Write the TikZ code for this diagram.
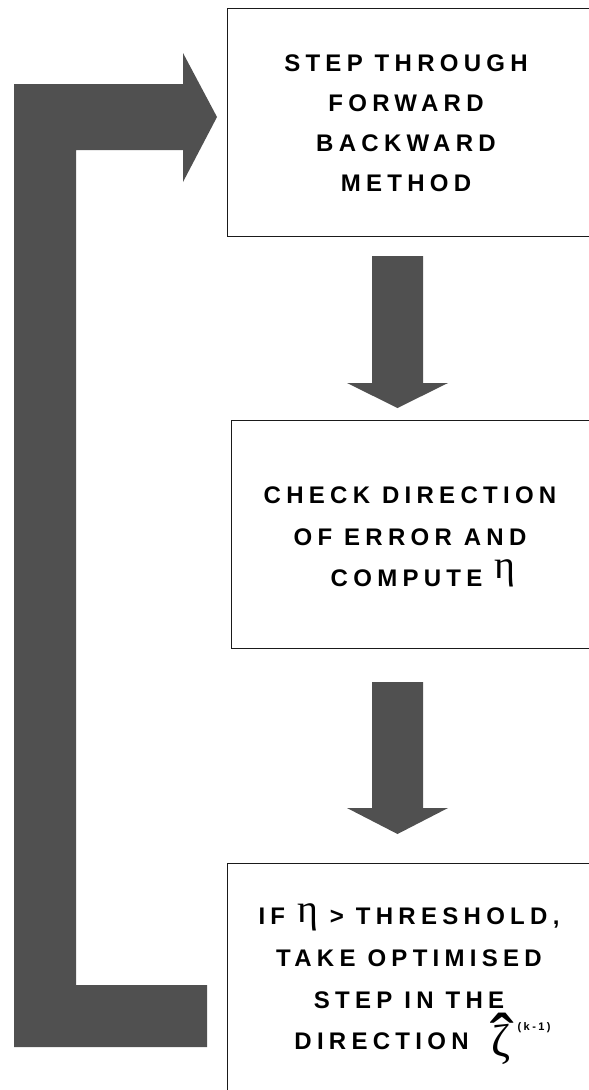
\documentclass[tikz,border=0pt]{standalone}
\usepackage{fontspec}
\setmainfont{Liberation Sans}
\newfontfamily\boxfont[LetterSpace=22]{Liberation Sans}
\newfontfamily\greekfont{Liberation Serif}
\usetikzlibrary{positioning}
\definecolor{arrowgray}{HTML}{505050}
\definecolor{frameblack}{HTML}{1A1A1A}
% big upright greek letters, kept out of the line heights
\newcommand{\etaglyph}[1]{\smash{\raisebox{#1}{\greekfont\mdseries\fontsize{40}{40}\selectfont η}}}
\newcommand{\zetahat}{\smash{\makebox[0pt][l]{\raisebox{-15.5pt}{\normalfont\mdseries\fontsize{72}{72}\selectfont\hspace{-1pt}ˆ}}%
  \raisebox{-7pt}{\greekfont\mdseries\fontsize{46}{46}\selectfont ζ}}}
\newcommand{\kminus}{\smash{\raisebox{19pt}{\fontsize{11}{11}\selectfont(k-1)}}}
\tikzset{
  boxtext/.style={align=center, inner sep=0pt, text=black, font=\boxfont\bfseries\fontsize{24}{41.7}\selectfont},
  blockarrow/.style={fill=arrowgray, draw=none},
  boxframe/.style={draw=frameblack, line width=1pt}
}

\begin{document}
\begin{tikzpicture}[x=1pt, y=-1pt]
\useasboundingbox (0,0) rectangle (589,1090);
\clip (0,0) rectangle (589,1090);
% loop back arrow
\fill[blockarrow] (207,1047) -- (14,1047) -- (14,84) -- (183,84) -- (183,53) -- (217,117)
  -- (183,182) -- (183,150) -- (76,150) -- (76,985) -- (207,985) -- cycle;
% boxes, open on the right
\draw[boxframe] (600,8) -- (227,8) -- (227,236) -- (600,236);
\draw[boxframe] (600,420) -- (231,420) -- (231,648) -- (600,648);
\draw[boxframe] (600,863) -- (227,863) -- (227,1100);
% down arrows
\fill[blockarrow] (372,256) -- (423,256) -- (423,383) -- (448,383) -- (397.5,408) -- (347,383) -- (372,383) -- cycle;
\fill[blockarrow] (372,682) -- (423,682) -- (423,808) -- (448,808) -- (397.5,834) -- (347,808) -- (372,808) -- cycle;
% texts
\node[boxtext, font=\boxfont\bfseries\fontsize{24}{40}\selectfont] (fbmtext) at (406,123.5)
  {STEP THROUGH\\FORWARD\\BACKWARD\\METHOD};
\node[boxtext] (errtext) at (410,537)
  {CHECK DIRECTION\\OF ERROR AND\\\hspace*{26pt}COMPUTE \etaglyph{8pt}};
\node[boxtext] (steptext) at (409,979)
  {IF \etaglyph{2pt} > THRESHOLD,\\TAKE OPTIMISED\\STEP IN THE\\\hspace*{27pt}DIRECTION \hspace{11pt}\zetahat\hspace{7pt}\kminus};
\end{tikzpicture}
\end{document}
